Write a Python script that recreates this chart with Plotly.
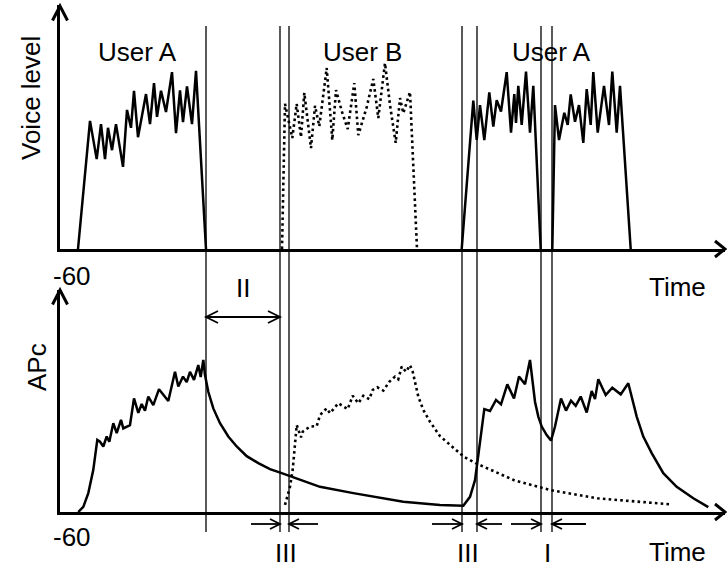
import plotly.graph_objects as go

W, H = 727, 567

# ---------------- data ----------------
# time in arbitrary units from the axis origin, levels in dB (axis floor = -60)
# Upper panel: voice level
userA1_t = [18, 30, 36.7, 41, 45, 48, 52, 56, 63, 67, 71, 74, 78, 86, 90, 94, 97, 101,
            106, 112, 116, 120, 123, 127, 132, 136, 146]
userA1_level = [-60, -28.5, -37.9, -29.3, -37.9, -30.2, -35.7, -29.3, -39.8, -25.8, -30.2,
                -21.1, -32.5, -21.9, -29.3, -19.2, -27.5, -21.1, -26.3, -16.5, -31.5, -21.0,
                -28.8, -20.0, -29.3, -16.2, -60]

userB_t = [222, 225, 232.3, 236.7, 241, 244.3, 251, 255, 259.3, 266.7, 272.3, 276, 282,
           287.7, 294.3, 298.3, 306.7, 313.3, 318.3, 325, 330, 335.7, 340, 343.3, 350, 357]
userB_level = [-60, -24.3, -32.7, -24.3, -32.5, -21.6, -35.2, -24.8, -29.8, -15.5, -33.2,
               -20.9, -26.3, -30.5, -19.2, -32.0, -25.1, -18.2, -27.8, -14.3, -24.6, -33.9,
               -22.9, -26.6, -21.4, -60]

userA2_t = [401.7, 413.3, 416.7, 420, 424.3, 429.3, 433.3, 436.7, 441, 446.7, 451, 454.3,
            456, 458.3, 461.7, 466, 470, 473.3, 480.7]
userA2_level = [-60, -23.5, -33.2, -24.6, -33.2, -21.5, -29.9, -23.4, -26.2, -16.5, -31.4,
                -21.9, -29.0, -19.9, -29.5, -16.4, -31.4, -19.9, -60]

userA3_t = [492.3, 495, 499, 504.3, 507.7, 510.7, 515, 519, 523.3, 526.7, 530.7, 533.3,
            537.7, 544, 549, 552.3, 556.7, 560, 570.7]
userA3_level = [-60, -24.6, -33.2, -26.5, -29.5, -22.0, -28.7, -24.6, -33.9, -20.7, -29.5,
                -16.5, -31.4, -19.9, -29.5, -16.4, -31.4, -19.9, -60]

# Lower panel: APc
apcA_t = [18.3, 23.3, 28.3, 33.3, 37.3, 40, 43.3, 46.7, 49.3, 53.3, 56.7, 61, 63.3, 70, 74,
          78.3, 81.7, 85, 88.3, 93.3, 99, 108.3, 115, 118.3, 123, 126.7, 130, 134, 138.3,
          140.7, 143.3, 145, 148.3, 153.3, 160, 168.3, 176.7, 186.7, 198.3, 210, 221.7,
          231.7, 240, 260, 293.3, 343.3, 380, 395, 403.3, 410, 415, 419, 424.3, 430, 436,
          441, 447.3, 454, 459, 465, 470, 475, 478.3, 481.7, 486.7, 491, 495, 501, 506, 511,
          515.7, 520.7, 526.7, 531.7, 535, 538.3, 545.7, 552.3, 560.7, 568.3, 571.7, 576.7,
          583.3, 591.7, 603.3, 616.7, 633.3, 648.3]
apcA_level = [-60.0, -58.6, -54.9, -48.6, -40.5, -41.0, -42.3, -39.6, -41.0, -36.0, -38.7,
              -35.1, -37.4, -36.5, -29.3, -33.2, -30.8, -32.6, -28.8, -31.1, -26.8, -30.0,
              -22.1, -26.1, -23.4, -24.9, -22.1, -24.3, -20.3, -23.5, -18.9, -23.0, -27.5,
              -32.0, -36.0, -39.6, -42.3, -44.9, -46.8, -48.4, -49.5, -50.5, -51.2, -53.2,
              -54.9, -57.2, -58.1, -58.3, -58.3, -55.9, -51.4, -43.2, -32.2, -32.7, -29.7,
              -30.9, -25.5, -29.3, -23.4, -25.5, -18.9, -30.2, -34.2, -36.9, -39.2, -40.7,
              -36.9, -29.3, -32.6, -29.9, -31.3, -28.8, -33.1, -27.3, -29.5, -24.1, -28.4,
              -26.4, -28.2, -25.2, -28.8, -34.2, -39.6, -44.1, -49.5, -53.2, -56.3, -58.7]

apcB_t = [225, 227.3, 230, 232.7, 235, 236.7, 241, 242.7, 250, 256.7, 260, 266.7, 270,
          273.3, 278.3, 287.7, 292.7, 298.3, 303.3, 309.3, 312.7, 317.3, 323.3, 329.3, 335,
          338.3, 341.7, 346, 350, 352.7, 355, 358.3, 363.3, 370, 380, 404, 417.3, 454,
          490.7, 537.3, 609]
apcB_level = [-58.1, -55.9, -53.2, -48.6, -41.4, -36.5, -39.8, -38.3, -36.9, -36.8, -33.8,
              -32.0, -33.3, -32.2, -30.6, -32.2, -28.6, -30.6, -28.6, -29.5, -27.0, -26.3,
              -27.2, -24.8, -23.4, -24.1, -20.7, -22.1, -20.3, -22.1, -25.2, -28.8, -32.4,
              -35.6, -39.5, -45.1, -47.0, -51.4, -54.1, -56.3, -57.9]

# event instants (vertical lines)
marker_times = [146, 220, 229, 402, 417, 481, 492]

# interval labels
top_labels = ["User A", "User B", "User A"]
top_label_t = [77, 302, 491]
interval_labels = ["III", "III", "I"]

# ---------------- layout helpers (pixel -> paper) ----------------
def px(x):
    return x / W


def py(y):
    return 1 - y / H


X0, X1 = 60, 725          # axis origin / arrow tip (pixels)
TOP_BASE, TOP_TIP = 249, 5
BOT_BASE, BOT_TIP = 512, 290
T_MAX = X1 - X0

fig = go.Figure()
solid = dict(color="black", width=2.5)
dotted = dict(color="black", width=2.6, dash="2.6px,3.2px")

fig.add_trace(go.Scatter(x=userA1_t, y=userA1_level, mode="lines", line=solid, xaxis="x", yaxis="y"))
fig.add_trace(go.Scatter(x=userB_t, y=userB_level, mode="lines", line=dotted, xaxis="x", yaxis="y"))
fig.add_trace(go.Scatter(x=userA2_t, y=userA2_level, mode="lines", line=solid, xaxis="x", yaxis="y"))
fig.add_trace(go.Scatter(x=userA3_t, y=userA3_level, mode="lines", line=solid, xaxis="x", yaxis="y"))
fig.add_trace(go.Scatter(x=apcA_t, y=apcA_level, mode="lines", line=solid, xaxis="x2", yaxis="y2"))
fig.add_trace(go.Scatter(x=apcB_t, y=apcB_level, mode="lines", line=dotted, xaxis="x2", yaxis="y2"))

ax_common = dict(showline=True, linewidth=3, linecolor="black", showgrid=False,
                 zeroline=False, showticklabels=False, ticks="", fixedrange=True)

shapes = []
# vertical event lines spanning both panels
for t in marker_times:
    shapes.append(dict(type="line", xref="x", yref="paper", x0=t, x1=t,
                       y0=py(532), y1=py(26), line=dict(color="black", width=1.3)))


def chevron(tip_x, tip_y, dx, dy, xref="paper", width=3):
    """open arrowhead: tip at (tip_x, tip_y), arms going back by dx/dy (pixels)"""
    if xref == "paper":
        a = (px(tip_x + dx[0]), py(tip_y + dy[0]))
        b = (px(tip_x), py(tip_y))
        c = (px(tip_x + dx[1]), py(tip_y + dy[1]))
    else:
        a = (tip_x + dx[0], py(tip_y + dy[0]))
        b = (tip_x, py(tip_y))
        c = (tip_x + dx[1], py(tip_y + dy[1]))
    path = f"M {a[0]},{a[1]} L {b[0]},{b[1]} L {c[0]},{c[1]}"
    return dict(type="path", xref=xref, yref="paper", path=path,
                line=dict(color="black", width=width))


# axis arrowheads
shapes.append(chevron(X0, TOP_TIP + 1, (-7.5, 7.5), (14.5, 14.5)))
shapes.append(chevron(X1, TOP_BASE, (-10, -10), (-8, 8)))
shapes.append(chevron(X0, BOT_TIP, (-7.5, 7.5), (14.5, 14.5)))
shapes.append(chevron(X1, BOT_BASE, (-10, -10), (-8, 8)))

# interval II double arrow
II_Y = 317
shapes.append(dict(type="line", xref="x", yref="paper", x0=marker_times[0], x1=marker_times[1],
                   y0=py(II_Y), y1=py(II_Y), line=dict(color="black", width=1.8)))
shapes.append(chevron(marker_times[0], II_Y, (12, 12), (-6, 6), xref="x", width=1.8))
shapes.append(chevron(marker_times[1], II_Y, (-12, -12), (-6, 6), xref="x", width=1.8))

# inward pointing arrows at lower axis
ARR_Y = 524
inward = [(marker_times[1], -29), (marker_times[2], 29), (marker_times[3], -30),
          (marker_times[4], 25), (marker_times[5], -30), (marker_times[6], 34)]
for tip, tail in inward:
    shapes.append(dict(type="line", xref="x", yref="paper", x0=tip + tail, x1=tip,
                       y0=py(ARR_Y), y1=py(ARR_Y), line=dict(color="black", width=1.8)))
    s = 1 if tail > 0 else -1
    shapes.append(chevron(tip, ARR_Y, (10 * s, 10 * s), (-5, 5), xref="x", width=1.8))

FONT = dict(family="Arial, Liberation Sans, sans-serif", size=26, color="black")
annotations = []


def label(text, x, y, angle=0, xref="paper", yanchor="middle"):
    annotations.append(dict(text=text, x=x, y=py(y), xref=xref, yref="paper",
                            showarrow=False, xanchor="center", yanchor=yanchor,
                            textangle=angle, font=FONT))


for txt, t in zip(top_labels, top_label_t):
    label(txt, t, 52, xref="x")
label("Voice level", px(31), 98, angle=-90)
label("APc", px(37), 367, angle=-90)
label("-60", px(72), 276)
label("-60", px(72), 537)
label("Time", px(677), 287)
label("Time", px(677), 552)
label("II", (marker_times[0] + marker_times[1]) / 2, 288, xref="x")
label(interval_labels[0], (marker_times[1] + marker_times[2]) / 2 + 1, 553, xref="x")
label(interval_labels[1], (marker_times[3] + marker_times[4]) / 2 - 1.5, 553, xref="x")
label(interval_labels[2], (marker_times[5] + marker_times[6]) / 2 + 0.5, 553, xref="x")

fig.update_layout(
    width=W, height=H,
    margin=dict(l=0, r=0, t=0, b=0),
    paper_bgcolor="white", plot_bgcolor="white",
    showlegend=False,
    xaxis=dict(domain=[px(X0), px(X1)], range=[0, T_MAX], anchor="y", **ax_common),
    yaxis=dict(domain=[py(TOP_BASE), py(TOP_TIP)], range=[-60, 0], anchor="x", **ax_common),
    xaxis2=dict(domain=[px(X0), px(X1)], range=[0, T_MAX], anchor="y2", **ax_common),
    yaxis2=dict(domain=[py(BOT_BASE), py(BOT_TIP)], range=[-60, 0], anchor="x2", **ax_common),
    shapes=shapes,
    annotations=annotations,
)

fig.write_html(
    "out.html",
    config={"displayModeBar": False, "staticPlot": True},
    post_script="document.body.style.margin='0';document.body.style.overflow='hidden';",
)
